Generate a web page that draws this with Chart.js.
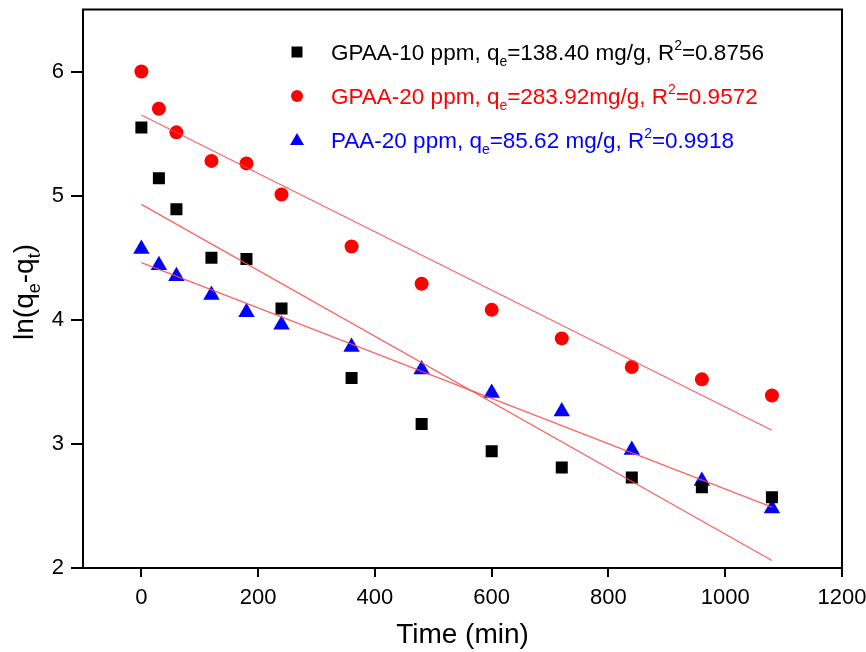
<!DOCTYPE html>
<html>
<head>
<meta charset="utf-8">
<script src="https://cdn.jsdelivr.net/npm/chart.js@4/dist/chart.umd.min.js"></script>
<style>
  html, body { margin: 0; padding: 0; background: #fff; }
  #wrap { width: 866px; height: 652px; }
</style>
</head>
<body>
<div id="wrap"><canvas id="chart"></canvas></div>
<script>
// data
var times = [0, 30, 60, 120, 180, 240, 360, 480, 600, 720, 840, 960, 1080];
var gpaa10 = [5.55, 5.14, 4.89, 4.50, 4.49, 4.09, 3.53, 3.16, 2.94, 2.81, 2.73, 2.65, 2.57];
var gpaa20 = [6.00, 5.70, 5.51, 5.28, 5.26, 5.01, 4.59, 4.29, 4.08, 3.85, 3.62, 3.52, 3.39];
var paa20 = [4.57, 4.44, 4.35, 4.20, 4.06, 3.96, 3.78, 3.60, 3.41, 3.26, 2.95, 2.70, 2.48];

// fitted lines: end points at t = 0 and t = 1080
var fitX = [0, 1080];
var fitGpaa10 = [4.93, 2.06];
var fitGpaa20 = [5.65, 3.11];
var fitPaa20 = [4.46, 2.49];

var legendRows = [
    { name: "GPAA-10 ppm, q", qe: "=138.40 mg/g, R", r2: "=0.8756", color: "#000000", shape: "rect" },
    { name: "GPAA-20 ppm, q", qe: "=283.92mg/g, R", r2: "=0.9572", color: "#ff0000", shape: "circle" },
    { name: "PAA-20 ppm, q", qe: "=85.62 mg/g, R", r2: "=0.9918", color: "#0000ff", shape: "triangle" }
];

var FONT = "Liberation Sans, Arial, Helvetica, sans-serif";

function pts(xs, ys) {
    return xs.map(function (x, i) { return { x: x, y: ys[i] }; });
}

// frame, legend and y title
var extras = {
    id: "extras",
    afterDraw: function (chart) {
        var ctx = chart.ctx;
        var a = chart.chartArea;
        ctx.save();
        ctx.strokeStyle = "#000";
        ctx.lineWidth = 2;
        ctx.strokeRect(a.left, a.top, a.right - a.left, a.bottom - a.top);

        // legend
        var big = "22.5px " + FONT, small = "14px " + FONT;
        ctx.textBaseline = "alphabetic";
        legendRows.forEach(function (r, i) {
            var base = 60 + i * 44;
            var mx = 297, my = base - 8;
            ctx.fillStyle = r.color;
            ctx.beginPath();
            if (r.shape === "rect") {
                ctx.rect(mx - 5.5, my - 5.5, 11, 11);
            } else if (r.shape === "circle") {
                ctx.arc(mx, my, 6, 0, Math.PI * 2);
            } else {
                ctx.moveTo(mx, my - 7);
                ctx.lineTo(mx + 7, my + 5);
                ctx.lineTo(mx - 7, my + 5);
                ctx.closePath();
            }
            ctx.fill();

            var x = 331;
            ctx.font = big;
            ctx.textAlign = "left";
            ctx.fillText(r.name, x, base);
            x += ctx.measureText(r.name).width;
            ctx.font = small;
            ctx.fillText("e", x, base + 6);
            x += ctx.measureText("e").width;
            ctx.font = big;
            ctx.fillText(r.qe, x, base);
            x += ctx.measureText(r.qe).width;
            ctx.font = small;
            ctx.fillText("2", x, base - 10);
            x += ctx.measureText("2").width;
            ctx.font = big;
            ctx.fillText(r.r2, x, base);
        });

        // y axis title ln(qe-qt)
        var tBig = "28px " + FONT, tSmall = "18px " + FONT;
        ctx.fillStyle = "#000";
        ctx.translate(33, 292);
        ctx.rotate(-Math.PI / 2);
        var parts = [["ln(q", tBig, 0], ["e", tSmall, 7], ["-q", tBig, 0], ["t", tSmall, 7], [")", tBig, 0]];
        var total = 0;
        parts.forEach(function (p) { ctx.font = p[1]; total += ctx.measureText(p[0]).width; });
        var px = -total / 2;
        parts.forEach(function (p) {
            ctx.font = p[1];
            ctx.fillText(p[0], px, p[2]);
            px += ctx.measureText(p[0]).width;
        });
        ctx.restore();
    }
};

var fitStyle = { type: "line", borderColor: "rgba(255,70,70,0.85)", borderWidth: 1.3, pointRadius: 0, fill: false };

var ctx = document.getElementById("chart");
var chart = new Chart(ctx, {
    type: "scatter",
    data: {
        datasets: [
            Object.assign({ data: pts(fitX, fitGpaa10) }, fitStyle),
            Object.assign({ data: pts(fitX, fitGpaa20) }, fitStyle),
            Object.assign({ data: pts(fitX, fitPaa20) }, fitStyle),
            {
                label: "GPAA-10 ppm",
                data: pts(times, gpaa10),
                pointStyle: "rect",
                pointRadius: 8.5,
                backgroundColor: "#000",
                borderColor: "#000",
                borderWidth: 0
            },
            {
                label: "GPAA-20 ppm",
                data: pts(times, gpaa20),
                pointStyle: "circle",
                pointRadius: 7,
                backgroundColor: "#ff0000",
                borderColor: "#ff0000",
                borderWidth: 0
            },
            {
                label: "PAA-20 ppm",
                data: pts(times, paa20),
                pointStyle: "triangle",
                pointRadius: 9.5,
                backgroundColor: "#0000ff",
                borderColor: "#0000ff",
                borderWidth: 0
            }
        ]
    },
    options: {
        responsive: true,
        maintainAspectRatio: false,
        animation: false,
        layout: { padding: { top: 9, right: 24, left: 0, bottom: 0 } },
        plugins: {
            legend: { display: false },
            tooltip: { enabled: false }
        },
        scales: {
            x: {
                type: "linear",
                min: -100,
                max: 1200,
                ticks: {
                    stepSize: 200, includeBounds: false, color: "#000", padding: 8, maxRotation: 0,
                    font: { size: 22, family: FONT },
                    callback: function (v) { return String(v); }
                },
                grid: { drawOnChartArea: false, drawTicks: true, tickLength: 9, color: "#000", lineWidth: 2 },
                border: { color: "#000", width: 2 },
                title: { display: true, text: "Time (min)", color: "#000", font: { size: 28, family: FONT }, padding: { top: 0, bottom: 0 } },
                afterFit: function (s) { s.height = 84; s.paddingLeft = 0; s.paddingRight = 0; }
            },
            y: {
                min: 2,
                max: 6.5,
                ticks: { stepSize: 1, includeBounds: false, color: "#000", font: { size: 22, family: FONT }, padding: 7 },
                grid: { drawOnChartArea: false, drawTicks: true, tickLength: 12, color: "#000", lineWidth: 2 },
                border: { color: "#000", width: 2 },
                afterFit: function (s) { s.width = 83; s.paddingTop = 0; s.paddingBottom = 0; }
            }
        }
    },
    plugins: [extras]
});
</script>
</body>
</html>
